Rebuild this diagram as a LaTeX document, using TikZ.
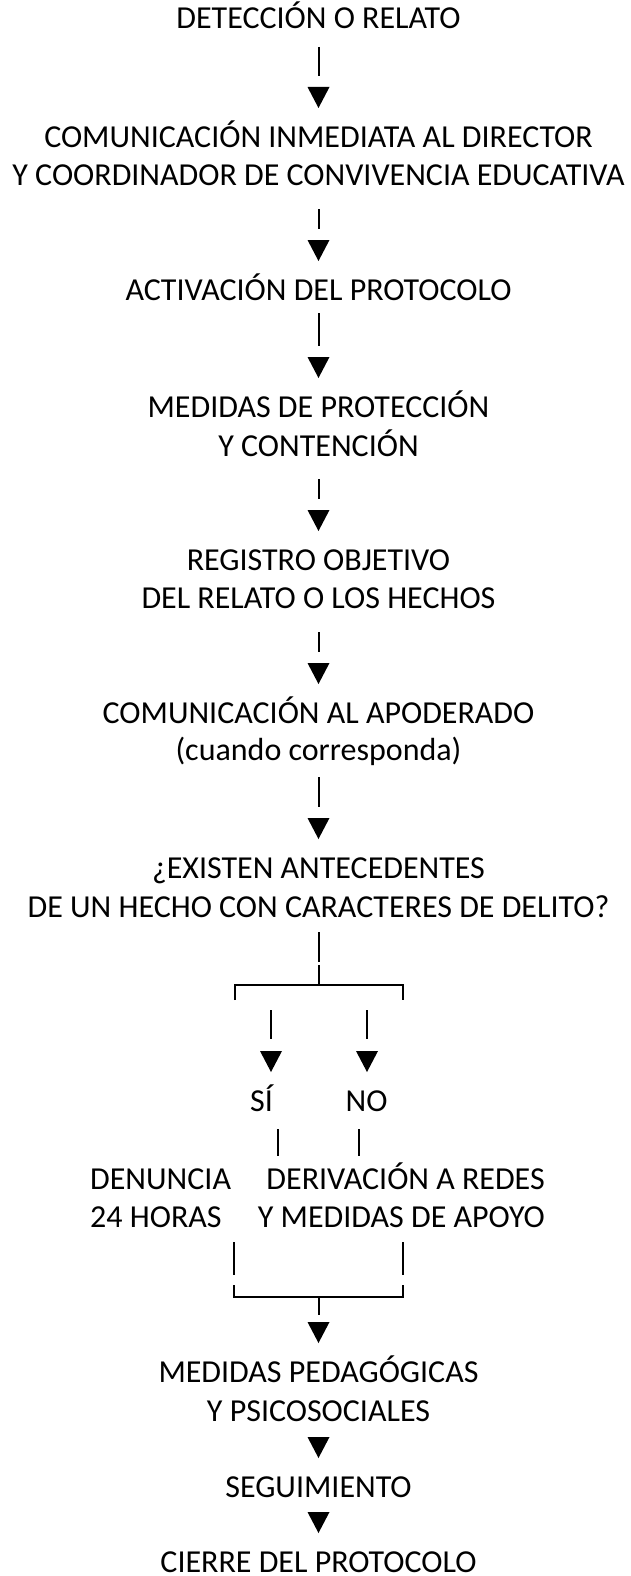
\documentclass[tikz,border=0pt]{standalone}
\usepackage{fontspec}
\setmainfont{Carlito}
\usetikzlibrary{calc}
\def\tip(#1)(#2){\fill ([xshift=#2pt,yshift=39pt]#1.base) -- ++(-11,21) -- ++(22,0) -- cycle;}
\def\link(#1)(#2)(#3){\draw[glyphbar] ([yshift=-#3pt]#1.base) -- ([yshift=71pt]#2.base); \tip(#2)(0)}

\begin{document}
\begin{tikzpicture}[x=1pt,y=1pt,
	flowtext/.style={font=\fontsize{32}{38}\selectfont, inner sep=0pt, anchor=base},
	glyphbar/.style={line width=2pt}]
	%%%%% START %%%%%
	\useasboundingbox (0,0) rectangle (630,-1576);
	
	\node[flowtext] (det) at (318.5,-29) {DETECCIÓN O RELATO};
	\node[flowtext] (com1) at (318.5,-147) {COMUNICACIÓN INMEDIATA AL DIRECTOR};
	\node[flowtext] (com2) at (318.5,-185) {Y COORDINADOR DE CONVIVENCIA EDUCATIVA};
	\node[flowtext] (act) at (318.5,-300) {ACTIVACIÓN DEL PROTOCOLO};
	\node[flowtext] (med1) at (318.5,-417) {MEDIDAS DE PROTECCIÓN};
	\node[flowtext] (med2) at (318.5,-456) {Y CONTENCIÓN};
	\node[flowtext] (reg1) at (318.5,-570) {REGISTRO OBJETIVO};
	\node[flowtext] (reg2) at (318.5,-608) {DEL RELATO O LOS HECHOS};
	\node[flowtext] (apo1) at (318.5,-723) {COMUNICACIÓN AL APODERADO};
	\node[flowtext] (apo2) at (318.5,-760) {(cuando corresponda)};
	\node[flowtext] (exi1) at (318.5,-878) {¿EXISTEN ANTECEDENTES};
	\node[flowtext] (exi2) at (318.5,-917) {DE UN HECHO CON CARACTERES DE DELITO?};
	
	\node[flowtext] (si) at (261.5,-1111) {SÍ};
	\node[flowtext] (no) at (366.5,-1111) {NO};
	\node[flowtext, anchor=base west] (den1) at (90,-1189) {DENUNCIA};
	\node[flowtext, anchor=base west] (den2) at (90,-1227) {24 HORAS};
	\node[flowtext, anchor=base east] (der1) at (545,-1189) {DERIVACIÓN A REDES};
	\node[flowtext, anchor=base east] (der2) at (545,-1227) {Y MEDIDAS DE APOYO};
	
	\node[flowtext] (ped1) at (318.5,-1382) {MEDIDAS PEDAGÓGICAS};
	\node[flowtext] (ped2) at (318.5,-1421) {Y PSICOSOCIALES};
	\node[flowtext] (seg) at (318.5,-1497) {SEGUIMIENTO};
	\node[flowtext] (cie) at (318.5,-1572) {CIERRE DEL PROTOCOLO};
	
	\link(det)(com1)(18)
	\link(com2)(act)(24)
	\link(act)(med1)(13)
	\link(med2)(reg1)(23)
	\link(reg2)(apo1)(24)
	\link(apo2)(exi1)(17)
	
	% split
	\coordinate (fork) at (318.5,-985);
	\draw[glyphbar] ([yshift=-15pt]exi2.base) -- ([yshift=-45pt]exi2.base);
	\draw[glyphbar] ([yshift=20pt]fork) -- (fork);
	\draw[glyphbar] (235,-1000) -- (235,-985) -- (403,-985) -- (403,-1000);
	\draw[glyphbar] (271,-1010) -- (271,-1039);
	\draw[glyphbar] (367,-1010) -- (367,-1039);
	\tip(si)(9.5)
	\tip(no)(0.5)
	
	\draw[glyphbar] ([xshift=16.5pt,yshift=-18pt]si.base) -- ++(0,-27);
	\draw[glyphbar] ([xshift=-7.5pt,yshift=-18pt]no.base) -- ++(0,-27);
	
	% join
	\coordinate (join) at (318.5,-1297);
	\draw[glyphbar] (234,-1242) -- (234,-1275);
	\draw[glyphbar] (403,-1242) -- (403,-1275);
	\draw[glyphbar] (234,-1285) -- (234,-1297) -- (403,-1297) -- (403,-1285);
	\draw[glyphbar] (join) -- ++(0,-18);
	\tip(ped1)(0)
	\tip(seg)(0)
	\tip(cie)(0)
	
	%%%%% END %%%%%
\end{tikzpicture}
\end{document}
